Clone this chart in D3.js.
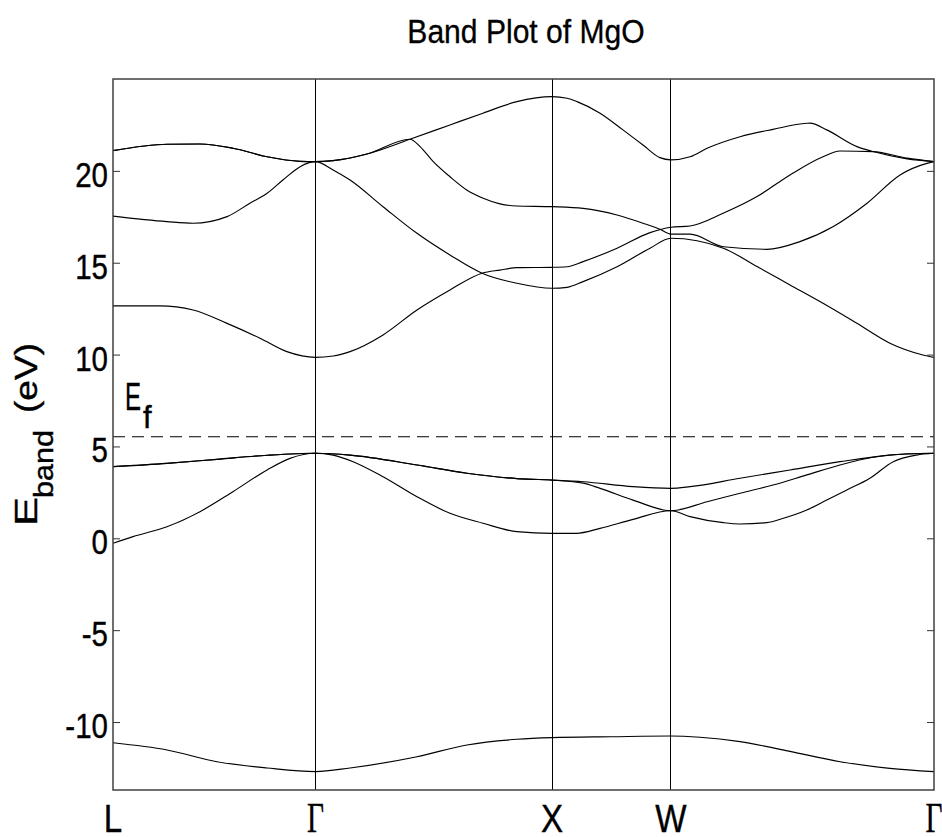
<!DOCTYPE html>
<html><head><meta charset="utf-8">
<script src="https://cdn.jsdelivr.net/npm/d3@7"></script>
<style>body{margin:0;background:#fff;} svg{display:block;}</style>
</head><body>
<script>
// ---- data ----
const kTicks = [0, 0.859, 1.863, 2.367, 3.484];
const kLabels = ["L", "Γ", "X", "W", "Γ"];
const yTicks = [-10, -5, 0, 5, 10, 15, 20];
const yDomain = [-13.7, 25];
const fermiEnergy = 5.53;
const titleText = "Band Plot of MgO";

// bands as [k, E(eV)]
const band1 = [[0,-11.13],[0.229,-11.52],[0.441,-12.16],[0.654,-12.5],[0.859,-12.7],
  [1.006,-12.5],[1.290,-11.89],[1.502,-11.25],[1.714,-10.94],[1.863,-10.85],
  [2.115,-10.8],[2.367,-10.76],
  [2.491,-10.83],[2.661,-11.07],[2.873,-11.6],[3.085,-12.16],[3.297,-12.52],[3.484,-12.7]];
const band2 = [[0,-0.27],[0.085,0.09],[0.229,0.63],[0.369,1.45],[0.509,2.54],[0.654,3.72],[0.751,4.35],[0.859,4.63],
  [0.934,4.53],[1.019,4.17],[1.146,3.35],[1.290,2.26],[1.430,1.36],[1.570,0.82],[1.714,0.36],[1.863,0.27],
  [1.966,0.27],[2.067,0.54],[2.207,1.03],[2.367,1.5],
  [2.449,1.18],[2.590,0.85],[2.661,0.78],[2.774,0.85],[2.845,1.09],[2.944,1.54],[3.029,2.08],[3.114,2.63],[3.212,3.27],[3.311,4.17],[3.410,4.53],[3.484,4.63]];
const band3 = [[0,3.9],[0.229,4.08],[0.441,4.3],[0.654,4.52],[0.859,4.63],
  [1.006,4.53],[1.290,3.99],[1.502,3.54],[1.714,3.25],[1.863,3.17],
  [1.995,3.0],[2.067,2.72],[2.207,2.08],[2.367,1.5],
  [2.521,1.99],[2.661,2.45],[2.801,2.9],[2.944,3.45],[3.085,3.99],[3.225,4.41],[3.370,4.6],[3.484,4.63]];
const band4 = [[0,3.9],[0.229,4.08],[0.441,4.3],[0.654,4.52],[0.859,4.63],
  [1.006,4.53],[1.290,3.99],[1.502,3.54],[1.714,3.25],[1.863,3.17],
  [1.995,3.08],[2.207,2.81],[2.367,2.72],
  [2.449,2.81],[2.661,3.27],[2.873,3.72],[3.085,4.17],[3.297,4.53],[3.484,4.63]];
const band5 = [[0,12.65],[0.199,12.65],[0.340,12.43],[0.484,11.7],[0.624,10.89],[0.738,10.16],[0.859,9.85],
  [0.934,9.92],[1.006,10.16],[1.146,11.07],[1.290,12.43],[1.430,13.52],[1.566,14.43],[1.642,14.6],[1.714,14.73],[1.863,14.75],
  [1.927,14.78],[1.995,15.06],[2.139,15.79],[2.279,16.64],[2.367,16.93],
  [2.449,17.0],[2.589,17.69],[2.733,18.6],[2.873,19.78],[3.013,20.77],[3.085,21.08],[3.225,21.05],[3.370,20.69],[3.484,20.5]];
const band6 = [[0,17.54],[0.229,17.24],[0.340,17.15],[0.484,17.51],[0.581,18.24],[0.654,18.78],[0.721,19.5],[0.794,20.23],[0.859,20.5],
  [0.934,20.05],[1.006,19.5],[1.146,18.05],[1.290,16.6],[1.430,15.42],[1.566,14.43],[1.714,13.88],[1.863,13.61],
  [1.927,13.66],[1.995,13.97],[2.139,14.78],[2.279,15.79],[2.367,16.33],
  [2.590,15.79],[2.733,14.79],[2.873,13.79],[3.013,12.79],[3.157,11.7],[3.297,10.62],[3.437,9.98],[3.484,9.85]];
const band7 = [[0,21.1],[0.229,21.45],[0.369,21.46],[0.509,21.23],[0.654,20.77],[0.794,20.52],[0.859,20.5],
  [0.934,20.56],[1.078,20.92],[1.260,21.72],[1.303,21.32],[1.359,20.5],[1.430,19.68],[1.501,18.96],[1.571,18.51],[1.642,18.2],[1.713,18.09],[1.863,18.05],
  [1.995,17.96],[2.139,17.6],[2.249,17.15],[2.321,16.82],[2.367,16.56],
  [2.449,16.56],[2.590,15.87],[2.775,15.73],[2.915,16.15],[3.055,16.96],[3.200,18.24],[3.340,19.78],[3.454,20.41],[3.484,20.5]];
const band8 = [[0,21.1],[0.229,21.45],[0.369,21.46],[0.509,21.23],[0.654,20.77],[0.794,20.52],[0.859,20.5],
  [0.934,20.56],[1.078,20.92],[1.260,21.72],[1.430,22.5],[1.570,23.14],[1.714,23.77],[1.863,24.04],
  [1.927,23.95],[1.969,23.77],[2.067,23.14],[2.164,22.23],[2.249,21.41],[2.321,20.72],[2.367,20.6],
  [2.449,20.77],[2.521,21.23],[2.661,21.86],[2.801,22.26],[2.944,22.59],[2.958,22.6],[3.029,22.23],[3.157,21.32],[3.225,21.05],[3.370,20.65],[3.484,20.5]];
const bands = [band1, band2, band3, band4, band5, band6, band7, band8];

// ---- layout ----
const W = 942, H = 837;
const pLeft = 113, pRight = 934, pTop = 79, pBottom = 790;

const svg = d3.select("body").append("svg").attr("width", W).attr("height", H);
svg.append("rect").attr("width", W).attr("height", H).attr("fill", "#fff");

const x = d3.scaleLinear().domain([kTicks[0], kTicks[kTicks.length-1]]).range([pLeft, pRight]);
const y = d3.scaleLinear().domain(yDomain).range([pBottom, pTop]);

svg.append("defs").append("clipPath").attr("id", "plotclip")
  .append("rect").attr("x", pLeft).attr("y", pTop).attr("width", pRight-pLeft).attr("height", pBottom-pTop);

// symmetry lines
svg.append("g").selectAll("line").data(kTicks.slice(1, -1)).join("line")
  .attr("x1", d => x(d)).attr("x2", d => x(d)).attr("y1", pTop).attr("y2", pBottom)
  .attr("stroke", "#000").attr("stroke-width", 1).attr("shape-rendering", "crispEdges");

// Fermi level
svg.append("line").attr("x1", pLeft).attr("x2", pRight)
  .attr("y1", y(fermiEnergy)).attr("y2", y(fermiEnergy))
  .attr("stroke", "#000").attr("stroke-width", 1.1).attr("stroke-dasharray", "12,7");

// bands
const line = d3.line().x(d => x(d[0])).y(d => y(d[1])).curve(d3.curveMonotoneX);
svg.append("g").attr("clip-path", "url(#plotclip)").selectAll("path").data(bands).join("path")
  .attr("d", line).attr("fill", "none").attr("stroke", "#000").attr("stroke-width", 1.15);

// axes ticks (inward)
const yAxL = d3.axisLeft(y).tickValues(yTicks).tickSize(-7).tickFormat("");
const yAxR = d3.axisRight(y).tickValues(yTicks).tickSize(-7).tickFormat("");
const gL = svg.append("g").attr("transform", `translate(${pLeft},0)`).call(yAxL);
const gR = svg.append("g").attr("transform", `translate(${pRight},0)`).call(yAxR);
[gL, gR].forEach(g => { g.select(".domain").remove(); g.selectAll("line").attr("stroke", "#333"); });

// frame
svg.append("rect").attr("x", pLeft).attr("y", pTop).attr("width", pRight-pLeft).attr("height", pBottom-pTop)
  .attr("fill", "none").attr("stroke", "#404040").attr("stroke-width", 1.5);

const sans = "Liberation Sans, Arial, sans-serif";

// y tick labels
svg.append("g").selectAll("g").data(yTicks).join("g")
  .attr("transform", d => `translate(108,${y(d)+16}) scale(0.82,1)`)
  .append("text").attr("text-anchor", "end")
  .attr("font-family", sans).attr("font-size", 36)
  .attr("stroke", "#000").attr("stroke-width", 0.4)
  .text(d => d);

// x tick labels
svg.append("g").selectAll("g").data(kTicks).join("g")
  .attr("transform", (d, i) => `translate(${x(d)},832) scale(${kLabels[i] === "Γ" ? 0.7 : 0.85},1)`)
  .append("text").attr("text-anchor", "middle")
  .attr("font-family", (d, i) => kLabels[i] === "Γ" ? "Liberation Serif, Times New Roman, serif" : sans)
  .attr("font-size", (d, i) => kLabels[i] === "Γ" ? 42 : 39)
  .attr("stroke", "#000").attr("stroke-width", 0.4)
  .text((d, i) => kLabels[i]);

// title
svg.append("g").attr("transform", `translate(526,43) scale(0.94,1.05)`)
  .append("text").attr("text-anchor", "middle")
  .attr("font-family", sans).attr("font-size", 32)
  .attr("stroke", "#000").attr("stroke-width", 0.3)
  .text(titleText);

// y axis label
const yl = svg.append("g").attr("transform", "translate(37,526) rotate(-90)")
  .attr("font-family", sans).attr("stroke", "#000").attr("stroke-width", 0.4);
yl.append("text").attr("x", 0).attr("y", 0).attr("font-size", 31)
  .attr("textLength", 29).attr("lengthAdjust", "spacingAndGlyphs").text("E");
yl.append("text").attr("x", 28).attr("y", 16).attr("font-size", 28)
  .attr("textLength", 68).attr("lengthAdjust", "spacingAndGlyphs").text("band");
yl.append("text").attr("x", 113).attr("y", 0).attr("font-size", 32)
  .attr("textLength", 70).attr("lengthAdjust", "spacingAndGlyphs").text("(eV)");

// E_f label
const ef = svg.append("g").attr("font-family", sans).attr("stroke", "#000").attr("stroke-width", 0.4);
ef.append("text").attr("x", 125).attr("y", 410).attr("font-size", 39)
  .attr("textLength", 16).attr("lengthAdjust", "spacingAndGlyphs").text("E");
ef.append("text").attr("x", 143).attr("y", 428).attr("font-size", 31).text("f");
</script>
</body></html>
